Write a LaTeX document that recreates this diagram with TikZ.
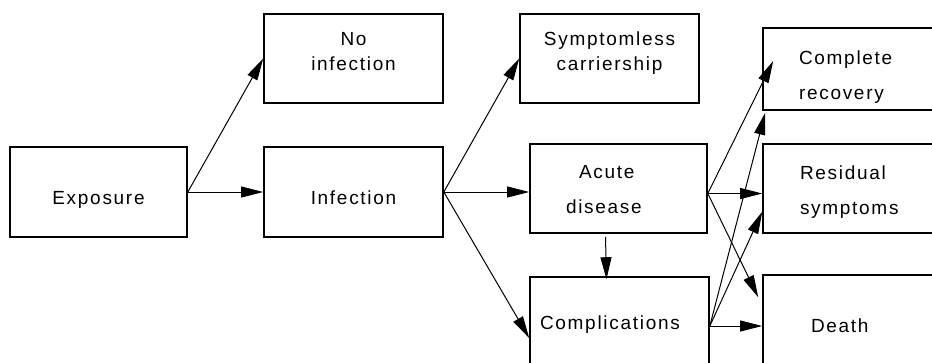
\documentclass[tikz,border=0pt]{standalone}
\usepackage{fontspec}
\usepackage{tikz}
\usetikzlibrary{arrows.meta,positioning}
\newfontfamily\boxfont{Liberation Sans}[LetterSpace=9]

\begin{document}
\begin{tikzpicture}[x=1pt,y=-1pt,->,>={Triangle[length=22pt,width=11pt]},
        line width=1pt,
        box/.style={draw,rectangle,line width=1.6pt,inner ysep=0pt,
          font=\fontsize{19}{25}\selectfont\boxfont}]

  \useasboundingbox (0,0) rectangle (932,362);

  \node[box,align=center,text width=177pt,inner xsep=0pt,
        text height=57pt,text depth=33pt] (expo) at (98.5,192) {Exposure};
  \node[box,align=center,text width=179pt,inner xsep=0pt,
        text height=31pt,text depth=58pt] (noinf) at (353.5,58.5) {No\\infection};
  \node[box,align=center,text width=179pt,inner xsep=0pt,
        text height=57pt,text depth=33pt] (inf) at (353.5,192) {Infection};
  \node[box,align=center,text width=179pt,inner xsep=0pt,
        text height=31pt,text depth=58pt] (carrier) at (609.5,58.5) {Symptomless\\carriership};
  \node[box,align=left,text width=105pt,inner xsep=36pt,
        text height=34pt,text depth=55pt] (acute) at (618.5,188.5)
        {\hspace*{13pt}Acute\\[10pt]disease};
  \node[box,align=left,text width=159pt,inner xsep=10pt,
        text height=52pt,text depth=40pt] (comp) at (619.5,323) {Complications};
  \node[box,align=left,text width=110pt,inner xsep=36pt,
        text height=36pt,text depth=46pt] (recov) at (854,69) {Complete\\[10pt]recovery};
  \node[box,align=left,text width=108pt,inner xsep=37pt,
        text height=35pt,text depth=54pt] (resid) at (854,188.5) {Residual\\[10pt]symptoms};
  \node[box,align=left,text width=86pt,inner xsep=48pt,
        text height=57pt,text depth=43pt] (death) at (854,325) {Death};

  \coordinate (a_out) at ([yshift=-5pt]acute.east);
  \coordinate (c_out) at ([yshift=-3pt]comp.east);

  \path (expo.east) edge (noinf.west)
        (expo.east) edge (inf.west)
        (inf.east)  edge (carrier.west)
        (inf.east)  edge (inf.east -| acute.west)
        (inf.east)  edge ([yshift=-15pt]comp.west)
        ([xshift=-13pt,yshift=-3pt]acute.south) edge ([xshift=-13pt,yshift=-3pt]comp.north)
        (a_out) edge ([xshift=11pt,yshift=8pt]recov.west)
        (a_out) edge (a_out -| resid.west)
        (a_out) edge ([xshift=-4pt,yshift=-23pt]death.north west)
        (c_out) edge (c_out -| death.west)
        (c_out) edge ([yshift=22pt]resid.south west)
        (c_out) edge ([xshift=3pt,yshift=-2pt]recov.south west);

\end{tikzpicture}
\end{document}
